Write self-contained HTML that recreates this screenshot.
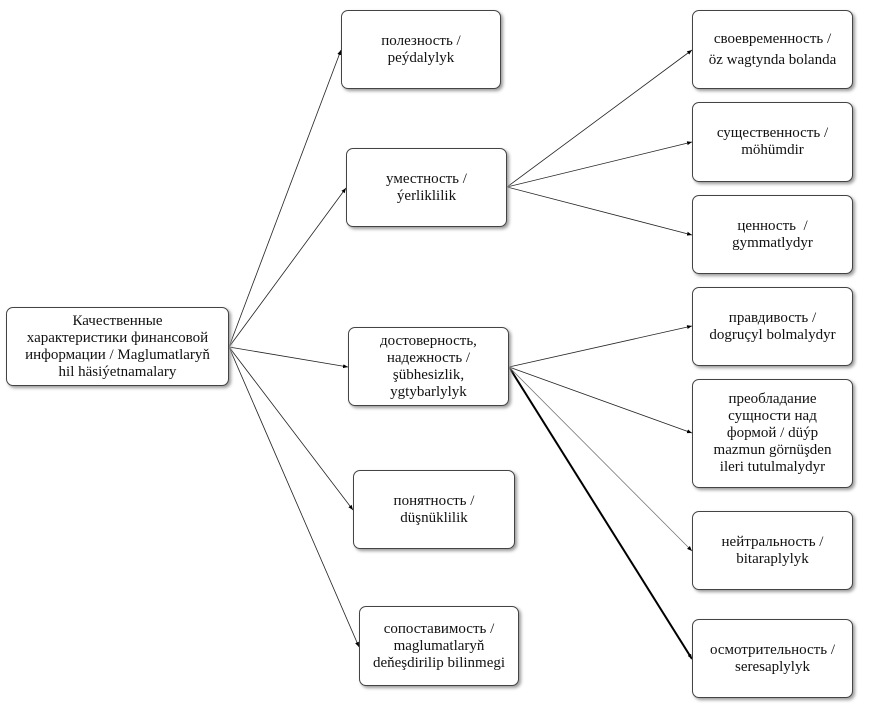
<!DOCTYPE html>
<html><head><meta charset="utf-8"><style>
body{margin:0;width:869px;height:706px;background:#fff;position:relative;overflow:hidden;font-family:"Liberation Serif",serif;}
.b{position:absolute;box-sizing:border-box;border:1px solid #444;border-radius:7px;background:#fff;box-shadow:2px 2px 3px #999;display:flex;align-items:center;justify-content:center;text-align:center;font-size:15px;line-height:17px;color:#111;}
svg{position:absolute;left:0;top:0;}
</style></head><body>
<svg width="869" height="706">
<defs><marker id="a" markerWidth="6" markerHeight="6" refX="5" refY="3" orient="auto" markerUnits="userSpaceOnUse"><path d="M0,1 L5,3 L0,5z" fill="#000"/></marker></defs>
<g stroke="#222" stroke-width="0.8" fill="none" marker-end="url(#a)">
<line x1="229" y1="347" x2="341" y2="50"/>
<line x1="229" y1="347" x2="346" y2="188"/>
<line x1="229" y1="347" x2="348" y2="367"/>
<line x1="229" y1="347" x2="353" y2="510"/>
<line x1="229" y1="347" x2="359" y2="647"/>
<line x1="507" y1="187" x2="692" y2="50"/>
<line x1="507" y1="187" x2="692" y2="142"/>
<line x1="507" y1="187" x2="692" y2="235"/>
<line x1="509" y1="367" x2="692" y2="326"/>
<line x1="509" y1="367" x2="692" y2="433"/>
<line x1="509" y1="367" x2="692" y2="551" stroke="#777"/>
<line x1="509" y1="367" x2="692" y2="659" stroke="#000" stroke-width="2"/>
</g></svg>
<div class="b" style="left:6px;top:307px;width:223px;height:79px">Качественные<br>характеристики финансовой<br>информации / Maglumatlaryň<br>hil häsiýetnamalary</div>
<div class="b" style="left:341px;top:10px;width:160px;height:79px">полезность /<br>peýdalylyk</div>
<div class="b" style="left:346px;top:148px;width:161px;height:79px">уместность /<br>ýerliklilik</div>
<div class="b" style="left:348px;top:327px;width:161px;height:79px">достоверность,<br>надежность /<br>şübhesizlik,<br>ygtybarlylyk</div>
<div class="b" style="left:353px;top:470px;width:162px;height:79px">понятность /<br>düşnüklilik</div>
<div class="b" style="left:359px;top:606px;width:160px;height:80px">сопоставимость /<br>maglumatlaryň<br>deňeşdirilip bilinmegi</div>
<div class="b" style="left:692px;top:10px;width:161px;height:79px;line-height:21px">своевременность /<br>öz wagtynda bolanda</div>
<div class="b" style="left:692px;top:102px;width:161px;height:80px">существенность /<br>möhümdir</div>
<div class="b" style="left:692px;top:195px;width:161px;height:79px">ценность &nbsp;/<br>gymmatlydyr</div>
<div class="b" style="left:692px;top:287px;width:161px;height:79px">правдивость /<br>dogruçyl bolmalydyr</div>
<div class="b" style="left:692px;top:379px;width:161px;height:109px">преобладание<br>сущности над<br>формой / düýp<br>mazmun görnüşden<br>ileri tutulmalydyr</div>
<div class="b" style="left:692px;top:511px;width:161px;height:79px">нейтральность /<br>bitaraplylyk</div>
<div class="b" style="left:692px;top:619px;width:161px;height:79px">осмотрительность /<br>seresaplylyk</div>
</body></html>
